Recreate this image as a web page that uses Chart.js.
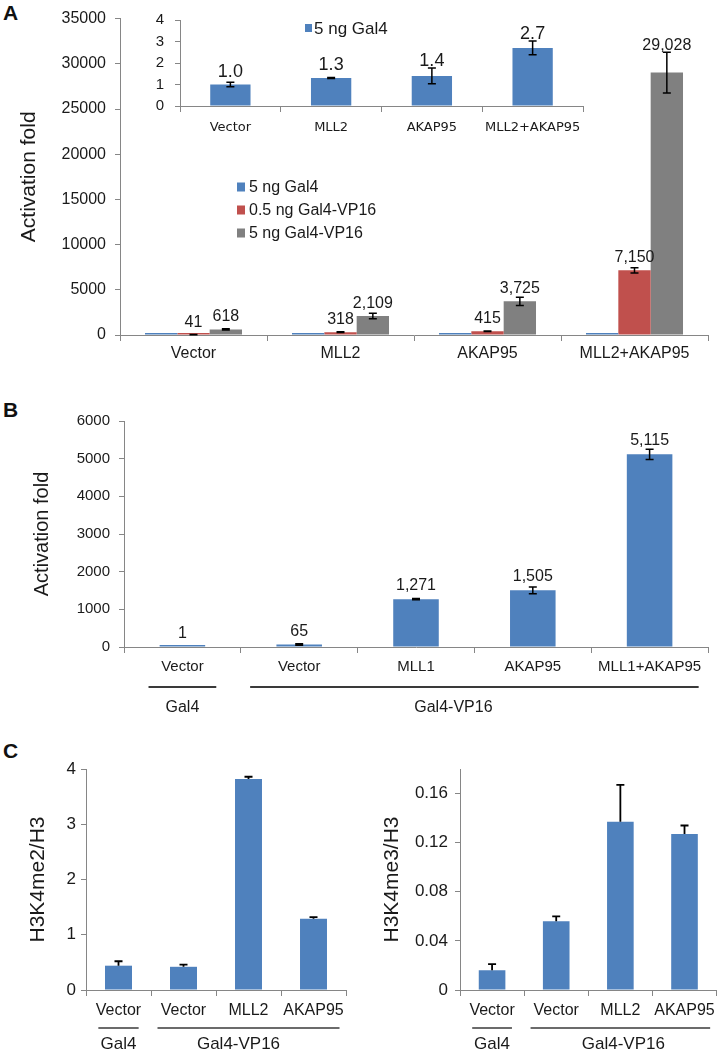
<!DOCTYPE html>
<html><head><meta charset="utf-8">
<script src="https://cdn.jsdelivr.net/npm/chart.js@4/dist/chart.umd.min.js"></script>
<style>
html,body{margin:0;padding:0;background:#fff;}
body{width:720px;height:1050px;position:relative;overflow:hidden;font-family:'Liberation Sans',Arial,sans-serif;}
canvas{position:absolute;}
.lab{position:absolute;font-weight:bold;font-size:21px;line-height:1;color:#111;}
</style></head><body>
<div class="lab" style="left:3px;top:2px">A</div>
<div class="lab" style="left:3px;top:399px">B</div>
<div class="lab" style="left:3px;top:740px">C</div>
<canvas id="cA" width="720" height="372" style="left:0;top:0"></canvas>
<canvas id="cAi" width="463" height="142" style="left:130px;top:0"></canvas>
<canvas id="cB" width="720" height="340" style="left:0;top:380px"></canvas>
<canvas id="cC1" width="360" height="328" style="left:0;top:722px"></canvas>
<canvas id="cC2" width="360" height="328" style="left:360px;top:722px"></canvas>
<script>
// ---------- DATA ----------
const aCategories = ['Vector', 'MLL2', 'AKAP95', 'MLL2+AKAP95'];
const aSeriesNames = ['5 ng Gal4', '0.5 ng Gal4-VP16', '5 ng Gal4-VP16'];
const aGal4 = [1.0, 1.3, 1.4, 2.7];
const aGal4Err = [0.1, 0.02, 0.37, 0.32];
const aVP16Low = [41, 318, 415, 7150];
const aVP16LowErr = [10, 40, 25, 300];
const aVP16High = [618, 2109, 3725, 29028];
const aVP16HighErr = [60, 300, 450, 2250];
const aMainTicks = [0, 5000, 10000, 15000, 20000, 25000, 30000, 35000];
const aInsetTicks = [0, 1, 2, 3, 4];

const bCategories = ['Vector', 'Vector', 'MLL1', 'AKAP95', 'MLL1+AKAP95'];
const bValues = [1, 65, 1271, 1505, 5115];
const bErr = [null, 20, 15, 88, 137];
const bTicks = [0, 1000, 2000, 3000, 4000, 5000, 6000];
const bGroups = ['Gal4', 'Gal4-VP16'];
const bGroupSpans = [[0, 0], [1, 4]];

const cCategories = ['Vector', 'Vector', 'MLL2', 'AKAP95'];
const cMe2 = [0.44, 0.42, 3.82, 1.29];
const cMe2Err = [0.08, 0.04, 0.04, 0.03];
const cMe2Ticks = [0, 1, 2, 3, 4];
const cMe3 = [0.016, 0.056, 0.137, 0.127];
const cMe3Err = [0.005, 0.004, 0.030, 0.007];
const cMe3Ticks = [0, 0.04, 0.08, 0.12, 0.16];
const cGroups = ['Gal4', 'Gal4-VP16'];
const cGroupSpans = [[0, 0], [1, 3]];

// ---------- STYLE ----------
const FONT = "'Liberation Sans', Arial, sans-serif";
const TEXT = '#1a1a1a';
const AXIS = '#868686';
const BLUE = '#4F81BD', RED = '#C0504D', GRAY = '#808080';
Chart.defaults.font.family = FONT;
Chart.defaults.color = TEXT;
Chart.defaults.animation = false;

const fmtComma = v => v.toLocaleString('en-US');
const fmtOne = v => v.toFixed(1);

function errorBarPlugin(cfg) {
  return { id: 'errorBars', afterDatasetsDraw(chart) {
    const ctx = chart.ctx, ys = chart.scales.y;
    chart.data.datasets.forEach((ds, i) => {
      if (!ds.errors) return;
      chart.getDatasetMeta(i).data.forEach((bar, j) => {
        const v = ds.data[j], e = ds.errors[j];
        if (e == null) return;
        const yT = ys.getPixelForValue(v + e);
        const yB = ys.getPixelForValue(cfg.upOnly ? v : v - e);
        ctx.save();
        ctx.strokeStyle = '#000'; ctx.lineWidth = cfg.width;
        ctx.beginPath();
        ctx.moveTo(bar.x, yT); ctx.lineTo(bar.x, yB);
        ctx.moveTo(bar.x - cfg.cap, yT); ctx.lineTo(bar.x + cfg.cap, yT);
        if (!cfg.upOnly) { ctx.moveTo(bar.x - cfg.cap, yB); ctx.lineTo(bar.x + cfg.cap, yB); }
        ctx.stroke(); ctx.restore();
      });
    });
  }};
}
function valueLabelPlugin(cfg) {
  return { id: 'valueLabels', afterDatasetsDraw(chart) {
    const ctx = chart.ctx, ys = chart.scales.y;
    ctx.save();
    ctx.font = cfg.size + 'px ' + FONT; ctx.fillStyle = TEXT;
    ctx.textAlign = 'center'; ctx.textBaseline = 'alphabetic';
    chart.data.datasets.forEach((ds, i) => {
      if (!ds.labelFormat) return;
      chart.getDatasetMeta(i).data.forEach((bar, j) => {
        const v = ds.data[j];
        const e = ds.errors && ds.errors[j] != null ? ds.errors[j] : 0;
        const y = Math.min(ys.getPixelForValue(v) - cfg.barGap, ys.getPixelForValue(v + e) - cfg.errGap);
        ctx.fillText(ds.labelFormat(v), bar.x, y);
      });
    });
    ctx.restore();
  }};
}
function boxLegendPlugin(cfg) {
  return { id: 'boxLegend', afterDraw(chart) {
    const ctx = chart.ctx;
    ctx.save();
    ctx.font = cfg.size + 'px ' + FONT; ctx.textBaseline = 'middle'; ctx.textAlign = 'left';
    chart.data.datasets.forEach((ds, i) => {
      const y = cfg.y + i * cfg.dy;
      ctx.fillStyle = ds.backgroundColor;
      ctx.fillRect(cfg.x, y - cfg.box / 2, cfg.boxW, cfg.box);
      ctx.fillStyle = TEXT;
      ctx.fillText(ds.label, cfg.x + cfg.boxW + cfg.gap, y + 1);
    });
    ctx.restore();
  }};
}
function groupPlugin(names, spans, cfg) {
  return { id: 'groups', afterDraw(chart) {
    const ctx = chart.ctx, xs = chart.scales.x;
    const w = xs.getPixelForValue(1) - xs.getPixelForValue(0);
    ctx.save();
    names.forEach((name, g) => {
      const a = spans[g][0], b = spans[g][1];
      const pad = (a === b ? cfg.single : cfg.multi) * w;
      const x0 = xs.getPixelForValue(a) - pad, x1 = xs.getPixelForValue(b) + pad;
      const ly = xs.top + cfg.lineOffset;
      ctx.strokeStyle = '#3a3a3a'; ctx.lineWidth = cfg.lineWidth;
      ctx.beginPath(); ctx.moveTo(x0, ly); ctx.lineTo(x1, ly); ctx.stroke();
      ctx.font = cfg.size + 'px ' + FONT; ctx.fillStyle = TEXT;
      ctx.textAlign = 'center'; ctx.textBaseline = 'middle';
      ctx.fillText(name, (x0 + x1) / 2 + (cfg.textDx[g] || 0), xs.top + cfg.textOffset);
    });
    ctx.restore();
  }};
}
function setTicks(arr) { return s => { s.ticks = arr.map(v => ({ value: v })); }; }

function yAxis(o) {
  return {
    min: 0, max: o.max,
    afterBuildTicks: setTicks(o.ticks),
    ticks: { font: { size: o.font, family: o.family || FONT }, padding: o.pad, callback: o.cb || (v => String(v)), color: TEXT },
    grid: { drawOnChartArea: false, drawTicks: true, tickLength: 5, color: AXIS },
    border: { display: true, color: AXIS, width: 1 },
    title: o.title ? { display: true, text: o.title, font: { size: o.titleSize }, color: TEXT, padding: { top: o.titlePad, bottom: 0 } } : { display: false },
    afterFit: s => { s.width = o.width; }
  };
}
function xAxis(o) {
  return {
    offset: true,
    grid: { offset: true, drawOnChartArea: false, drawTicks: true, tickLength: 6, color: AXIS },
    border: { display: true, color: AXIS, width: 1 },
    ticks: { font: { size: o.font, family: o.family || FONT }, padding: o.pad, maxRotation: 0, minRotation: 0, autoSkip: false, color: TEXT },
    afterFit: s => { s.height = o.height; }
  };
}
const base = { responsive: false, maintainAspectRatio: false, animation: false,
  plugins: { legend: { display: false }, tooltip: { enabled: false } } };

// ---------- Panel A main ----------
new Chart(document.getElementById('cA'), {
  type: 'bar',
  data: { labels: aCategories, datasets: [
    { label: aSeriesNames[0], data: aGal4, backgroundColor: BLUE },
    { label: aSeriesNames[1], data: aVP16Low, errors: aVP16LowErr, labelFormat: fmtComma, backgroundColor: RED },
    { label: aSeriesNames[2], data: aVP16High, errors: aVP16HighErr, labelFormat: fmtComma, backgroundColor: GRAY }
  ]},
  options: Object.assign({}, base, {
    layout: { padding: { top: 17, right: 12, left: 0, bottom: 0 } },
    datasets: { bar: { barPercentage: 1, categoryPercentage: 0.66, minBarLength: 2 } },
    scales: {
      x: xAxis({ font: 16, pad: 3, height: 37 }),
      y: yAxis({ max: 35000, ticks: aMainTicks, font: 16, pad: 9, width: 120, title: 'Activation fold', titleSize: 21, titlePad: 17 })
    }
  }),
  plugins: [errorBarPlugin({ cap: 4, width: 1.5 }), valueLabelPlugin({ size: 16, barGap: 8, errGap: 2 }),
            boxLegendPlugin({ x: 237, y: 187, dy: 23, box: 9, boxW: 8, gap: 4, size: 16 })]
});

// ---------- Panel A inset ----------
new Chart(document.getElementById('cAi'), {
  type: 'bar',
  data: { labels: aCategories, datasets: [
    { label: aSeriesNames[0], data: aGal4, errors: aGal4Err, labelFormat: fmtOne, backgroundColor: BLUE }
  ]},
  options: Object.assign({}, base, {
    layout: { padding: { top: 17, right: 10, left: 0, bottom: 0 } },
    datasets: { bar: { barPercentage: 0.4, categoryPercentage: 1 } },
    scales: {
      x: xAxis({ font: 13, family: "'DejaVu Sans', Verdana, sans-serif", pad: 8, height: 36 }),
      y: yAxis({ max: 4, ticks: aInsetTicks, font: 15, pad: 11, width: 50 })
    }
  }),
  plugins: [errorBarPlugin({ cap: 4, width: 1.5 }), valueLabelPlugin({ size: 18, barGap: 8, errGap: 2 }),
            boxLegendPlugin({ x: 175, y: 28, dy: 0, box: 8, boxW: 7, gap: 2, size: 17 })]
});

// ---------- Panel B ----------
new Chart(document.getElementById('cB'), {
  type: 'bar',
  data: { labels: bCategories, datasets: [
    { label: 'Gal4-VP16', data: bValues, errors: bErr, labelFormat: fmtComma, backgroundColor: BLUE }
  ]},
  options: Object.assign({}, base, {
    layout: { padding: { top: 41, right: 12, left: 0, bottom: 0 } },
    datasets: { bar: { barPercentage: 0.39, categoryPercentage: 1, minBarLength: 2 } },
    scales: {
      x: xAxis({ font: 15, pad: 5, height: 73 }),
      y: yAxis({ max: 6000, ticks: bTicks, font: 15, pad: 9, width: 124, title: 'Activation fold', titleSize: 20, titlePad: 30 })
    }
  }),
  plugins: [errorBarPlugin({ cap: 4, width: 1.5 }), valueLabelPlugin({ size: 16, barGap: 9, errGap: 3 }),
            groupPlugin(bGroups, bGroupSpans, { single: 0.29, multi: 0.42, lineOffset: 40, textOffset: 61, lineWidth: 2, size: 16, textDx: [0, -21] })]
});

// ---------- Panel C left ----------
new Chart(document.getElementById('cC1'), {
  type: 'bar',
  data: { labels: cCategories, datasets: [
    { label: 'H3K4me2/H3', data: cMe2, errors: cMe2Err, backgroundColor: BLUE }
  ]},
  options: Object.assign({}, base, {
    layout: { padding: { top: 47, right: 14, left: 0, bottom: 0 } },
    datasets: { bar: { barPercentage: 0.415, categoryPercentage: 1 } },
    scales: {
      x: xAxis({ font: 16, pad: 5, height: 60 }),
      y: yAxis({ max: 4, ticks: cMe2Ticks, font: 17, pad: 5, width: 86, title: 'H3K4me2/H3', titleSize: 21, titlePad: 26 })
    }
  }),
  plugins: [errorBarPlugin({ cap: 4, width: 1.8, upOnly: true }),
            groupPlugin(cGroups, cGroupSpans, { single: 0.31, multi: 0.4, lineOffset: 38, textOffset: 54, lineWidth: 1.5, size: 17, textDx: [0, -10] })]
});

// ---------- Panel C right ----------
new Chart(document.getElementById('cC2'), {
  type: 'bar',
  data: { labels: cCategories, datasets: [
    { label: 'H3K4me3/H3', data: cMe3, errors: cMe3Err, backgroundColor: BLUE }
  ]},
  options: Object.assign({}, base, {
    layout: { padding: { top: 47, right: 2, left: 0, bottom: 0 } },
    datasets: { bar: { barPercentage: 0.415, categoryPercentage: 1 } },
    scales: {
      x: xAxis({ font: 16, pad: 5, height: 60 }),
      y: yAxis({ max: 0.18, ticks: cMe3Ticks, font: 17, pad: 7, width: 100, title: 'H3K4me3/H3', titleSize: 21, titlePad: 20,
                 cb: v => (v === 0 ? '0' : v.toFixed(2)) })
    }
  }),
  plugins: [errorBarPlugin({ cap: 4, width: 1.8, upOnly: true }),
            groupPlugin(cGroups, cGroupSpans, { single: 0.31, multi: 0.4, lineOffset: 38, textOffset: 54, lineWidth: 1.5, size: 17, textDx: [0, 3] })]
});
</script>
</body></html>
